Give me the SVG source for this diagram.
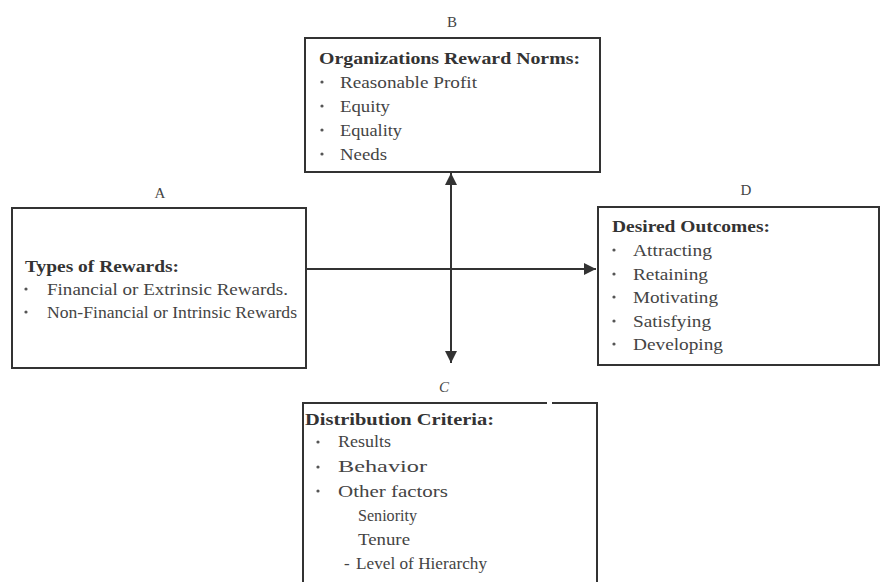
<svg xmlns="http://www.w3.org/2000/svg" width="881" height="582" viewBox="0 0 881 582">
<style>
.box{fill:#fff;stroke:#333;stroke-width:2}
.t{font-family:"Liberation Serif","Times New Roman",serif;font-size:17px;fill:#444}
.h{font-family:"Liberation Serif","Times New Roman",serif;font-size:17px;font-weight:bold;fill:#333}
.lbl{font-family:"Liberation Serif","Times New Roman",serif;font-size:15px;fill:#444;text-anchor:middle}
.b{fill:#555}
.con{stroke:#333;stroke-width:2;fill:none}
</style>
<defs>
<marker id="ah" viewBox="0 0 10 10" refX="10" refY="5" markerWidth="6" markerHeight="6" markerUnits="strokeWidth" orient="auto">
<path d="M0,0 L10,5 L0,10 z" fill="#333"/>
</marker>
</defs>
<rect width="881" height="582" fill="#fff"/>
<g id="connectors">
<line class="con" x1="306" y1="269" x2="596" y2="269" marker-end="url(#ah)"/>
<line class="con" x1="451" y1="268" x2="451" y2="173" marker-end="url(#ah)"/>
<line class="con" x1="451" y1="268" x2="451" y2="363" marker-end="url(#ah)"/>
</g>
<g id="nodeB">
<text class="lbl" x="452" y="27">B</text>
<rect class="box" x="305" y="38" width="295" height="134"/>
<text class="h" x="319" y="64" textLength="261" lengthAdjust="spacingAndGlyphs">Organizations Reward Norms:</text>
<circle class="b" cx="322" cy="82" r="1.6"/><text class="t" x="340" y="88" textLength="137" lengthAdjust="spacingAndGlyphs">Reasonable Profit</text>
<circle class="b" cx="322" cy="106" r="1.6"/><text class="t" x="340" y="112" textLength="50" lengthAdjust="spacingAndGlyphs">Equity</text>
<circle class="b" cx="322" cy="130" r="1.6"/><text class="t" x="340" y="136" textLength="62" lengthAdjust="spacingAndGlyphs">Equality</text>
<circle class="b" cx="322" cy="154" r="1.6"/><text class="t" x="340" y="160" textLength="47" lengthAdjust="spacingAndGlyphs">Needs</text>
</g>
<g id="nodeA">
<text class="lbl" x="160" y="198">A</text>
<rect class="box" x="12" y="208" width="294" height="160"/>
<text class="h" x="25" y="272" textLength="154" lengthAdjust="spacingAndGlyphs">Types of Rewards:</text>
<circle class="b" cx="26" cy="289" r="1.6"/><text class="t" x="47" y="295" textLength="241" lengthAdjust="spacingAndGlyphs">Financial or Extrinsic Rewards.</text>
<circle class="b" cx="26" cy="312" r="1.6"/><text class="t" x="47" y="318" textLength="250" lengthAdjust="spacingAndGlyphs">Non-Financial or Intrinsic Rewards</text>
</g>
<g id="nodeD">
<text class="lbl" x="746" y="195">D</text>
<rect class="box" x="598" y="207" width="281" height="158"/>
<text class="h" x="612" y="232" textLength="158" lengthAdjust="spacingAndGlyphs">Desired Outcomes:</text>
<circle class="b" cx="614" cy="250" r="1.6"/><text class="t" x="633" y="256" textLength="79" lengthAdjust="spacingAndGlyphs">Attracting</text>
<circle class="b" cx="614" cy="274" r="1.6"/><text class="t" x="633" y="280" textLength="75" lengthAdjust="spacingAndGlyphs">Retaining</text>
<circle class="b" cx="614" cy="297" r="1.6"/><text class="t" x="633" y="303" textLength="85" lengthAdjust="spacingAndGlyphs">Motivating</text>
<circle class="b" cx="614" cy="321" r="1.6"/><text class="t" x="633" y="327" textLength="78" lengthAdjust="spacingAndGlyphs">Satisfying</text>
<circle class="b" cx="614" cy="344" r="1.6"/><text class="t" x="633" y="350" textLength="90" lengthAdjust="spacingAndGlyphs">Developing</text>
</g>
<g id="nodeC">
<text class="lbl" x="444" y="392" font-style="italic">C</text>
<path class="con" d="M547,403 H303 V583 M597,583 V403 H552"/>
<text class="h" x="305" y="425" textLength="189" lengthAdjust="spacingAndGlyphs">Distribution Criteria:</text>
<circle class="b" cx="318" cy="442" r="1.6"/><text class="t" x="338" y="447" textLength="53" lengthAdjust="spacingAndGlyphs">Results</text>
<circle class="b" cx="318" cy="467" r="1.6"/><text class="t" x="338" y="472" textLength="89" lengthAdjust="spacingAndGlyphs">Behavior</text>
<circle class="b" cx="318" cy="491" r="1.6"/><text class="t" x="338" y="497" textLength="110" lengthAdjust="spacingAndGlyphs">Other factors</text>
<text class="t" x="358" y="521" textLength="59" lengthAdjust="spacingAndGlyphs">Seniority</text>
<text class="t" x="358" y="545" textLength="52" lengthAdjust="spacingAndGlyphs">Tenure</text>
<text class="t" x="344" y="569">-</text>
<text class="t" x="356" y="569" textLength="131" lengthAdjust="spacingAndGlyphs">Level of Hierarchy</text>
</g>
</svg>
